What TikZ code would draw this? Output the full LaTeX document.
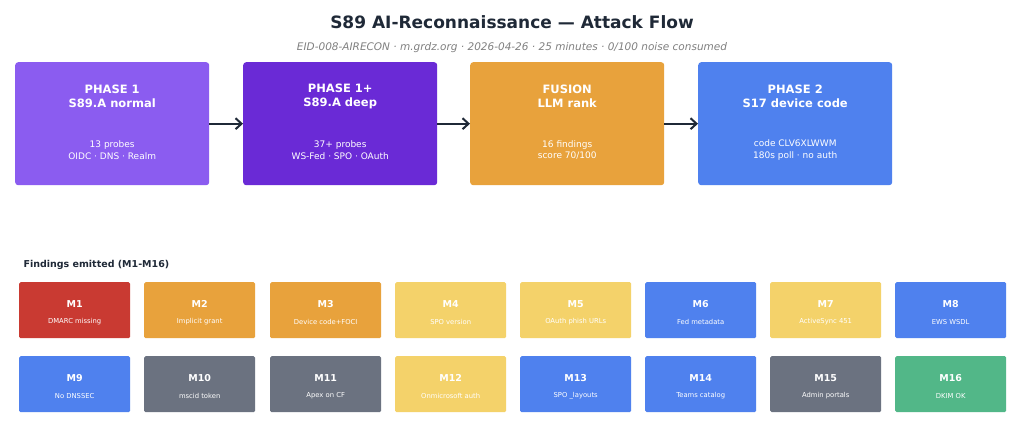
\documentclass[tikz,border=0pt]{standalone}
\usepackage{fontspec}
\setmainfont{DejaVu Sans}
\usetikzlibrary{arrows.meta}
\definecolor{cP1}{HTML}{8B5CF0}
\definecolor{cP2}{HTML}{6A2AD6}
\definecolor{cOr}{HTML}{E8A23C}
\definecolor{cBl}{HTML}{4F81EE}
\definecolor{cRd}{HTML}{C93A32}
\definecolor{cYe}{HTML}{F4D26A}
\definecolor{cGr}{HTML}{6B7280}
\definecolor{cGn}{HTML}{52B788}
\definecolor{cTx}{HTML}{1F2937}
\begin{document}
\begin{tikzpicture}[x=1pt,y=-1pt,
 phase/.style={rounded corners=3pt,draw=none,minimum width=194pt,minimum height=123pt,anchor=north west,text=white,align=center},
 find/.style={rounded corners=1.5pt,draw=none,minimum width=111pt,minimum height=56pt,anchor=north west,text=white,align=center},
 arr/.style={-{Straight Barb[length=6pt,width=11pt]},line width=2pt,cTx}]
\useasboundingbox[fill=white] (0,0) rectangle (1024,432);
\node[font=\bfseries\fontsize{17}{20}\selectfont,text=cTx] (title) at (512,22) {S89 AI-Reconnaissance — Attack Flow};
\node[font=\itshape\fontsize{10.5}{12}\selectfont,text=gray] (sub) at (512,48) {EID-008-AIRECON · m.grdz.org · 2026-04-26 · 25 minutes · 0/100 noise consumed};
\foreach \n/\x/\c/\a/\b/\cc/\d in {p1/15/cP1/PHASE 1/S89.A normal/13 probes/OIDC · DNS · Realm,
 p2/243/cP2/PHASE 1+/S89.A deep/37+ probes/WS-Fed · SPO · OAuth,
 p3/470/cOr/FUSION/LLM rank/16 findings/{score 70/100},
 p4/698/cBl/PHASE 2/S17 device code/code CLV6XLWWM/180s poll · no auth}{
 \node[phase,fill=\c] (\n) at (\x,62) {};
 \node[text=white,font=\bfseries\fontsize{11.5}{14}\selectfont,align=center] (\n t) at ([yshift=-34pt]\n.north) {\a\\\b};
 \node[text=white,font=\fontsize{9}{11.5}\selectfont,align=center] (\n d) at ([yshift=-88pt]\n.north) {\cc\\\d};
}
\draw[arr] (p1.east) -- (p2.west);
\draw[arr] (p2.east) -- (p3.west);
\draw[arr] (p3.east) -- (p4.west);
\node[anchor=west,font=\bfseries\fontsize{9.5}{11}\selectfont,text=cTx] (fe) at (20,265) {Findings emitted (M1-M16)};
\foreach \n/\x/\y/\c/\s in {M1/19/282/cRd/DMARC missing, M2/144/282/cOr/Implicit grant, M3/270/282/cOr/Device code+FOCI, M4/395/282/cYe/SPO version,
 M5/520/282/cYe/OAuth phish URLs, M6/645/282/cBl/Fed metadata, M7/770/282/cYe/ActiveSync 451, M8/895/282/cBl/EWS WSDL,
 M9/19/356/cBl/No DNSSEC, M10/144/356/cGr/mscid token, M11/270/356/cGr/Apex on CF, M12/395/356/cYe/Onmicrosoft auth,
 M13/520/356/cBl/SPO \_layouts, M14/645/356/cBl/Teams catalog, M15/770/356/cGr/Admin portals, M16/895/356/cGn/DKIM OK}{
 \node[find,fill=\c] (\n) at (\x,\y) {};
 \node[text=white,font=\bfseries\fontsize{9.5}{11}\selectfont] (\n t) at ([yshift=-22pt]\n.north) {\n};
 \node[text=white,font=\fontsize{6.8}{8}\selectfont] (\n d) at ([yshift=-40pt]\n.north) {\s};
}
\end{tikzpicture}
\end{document}
